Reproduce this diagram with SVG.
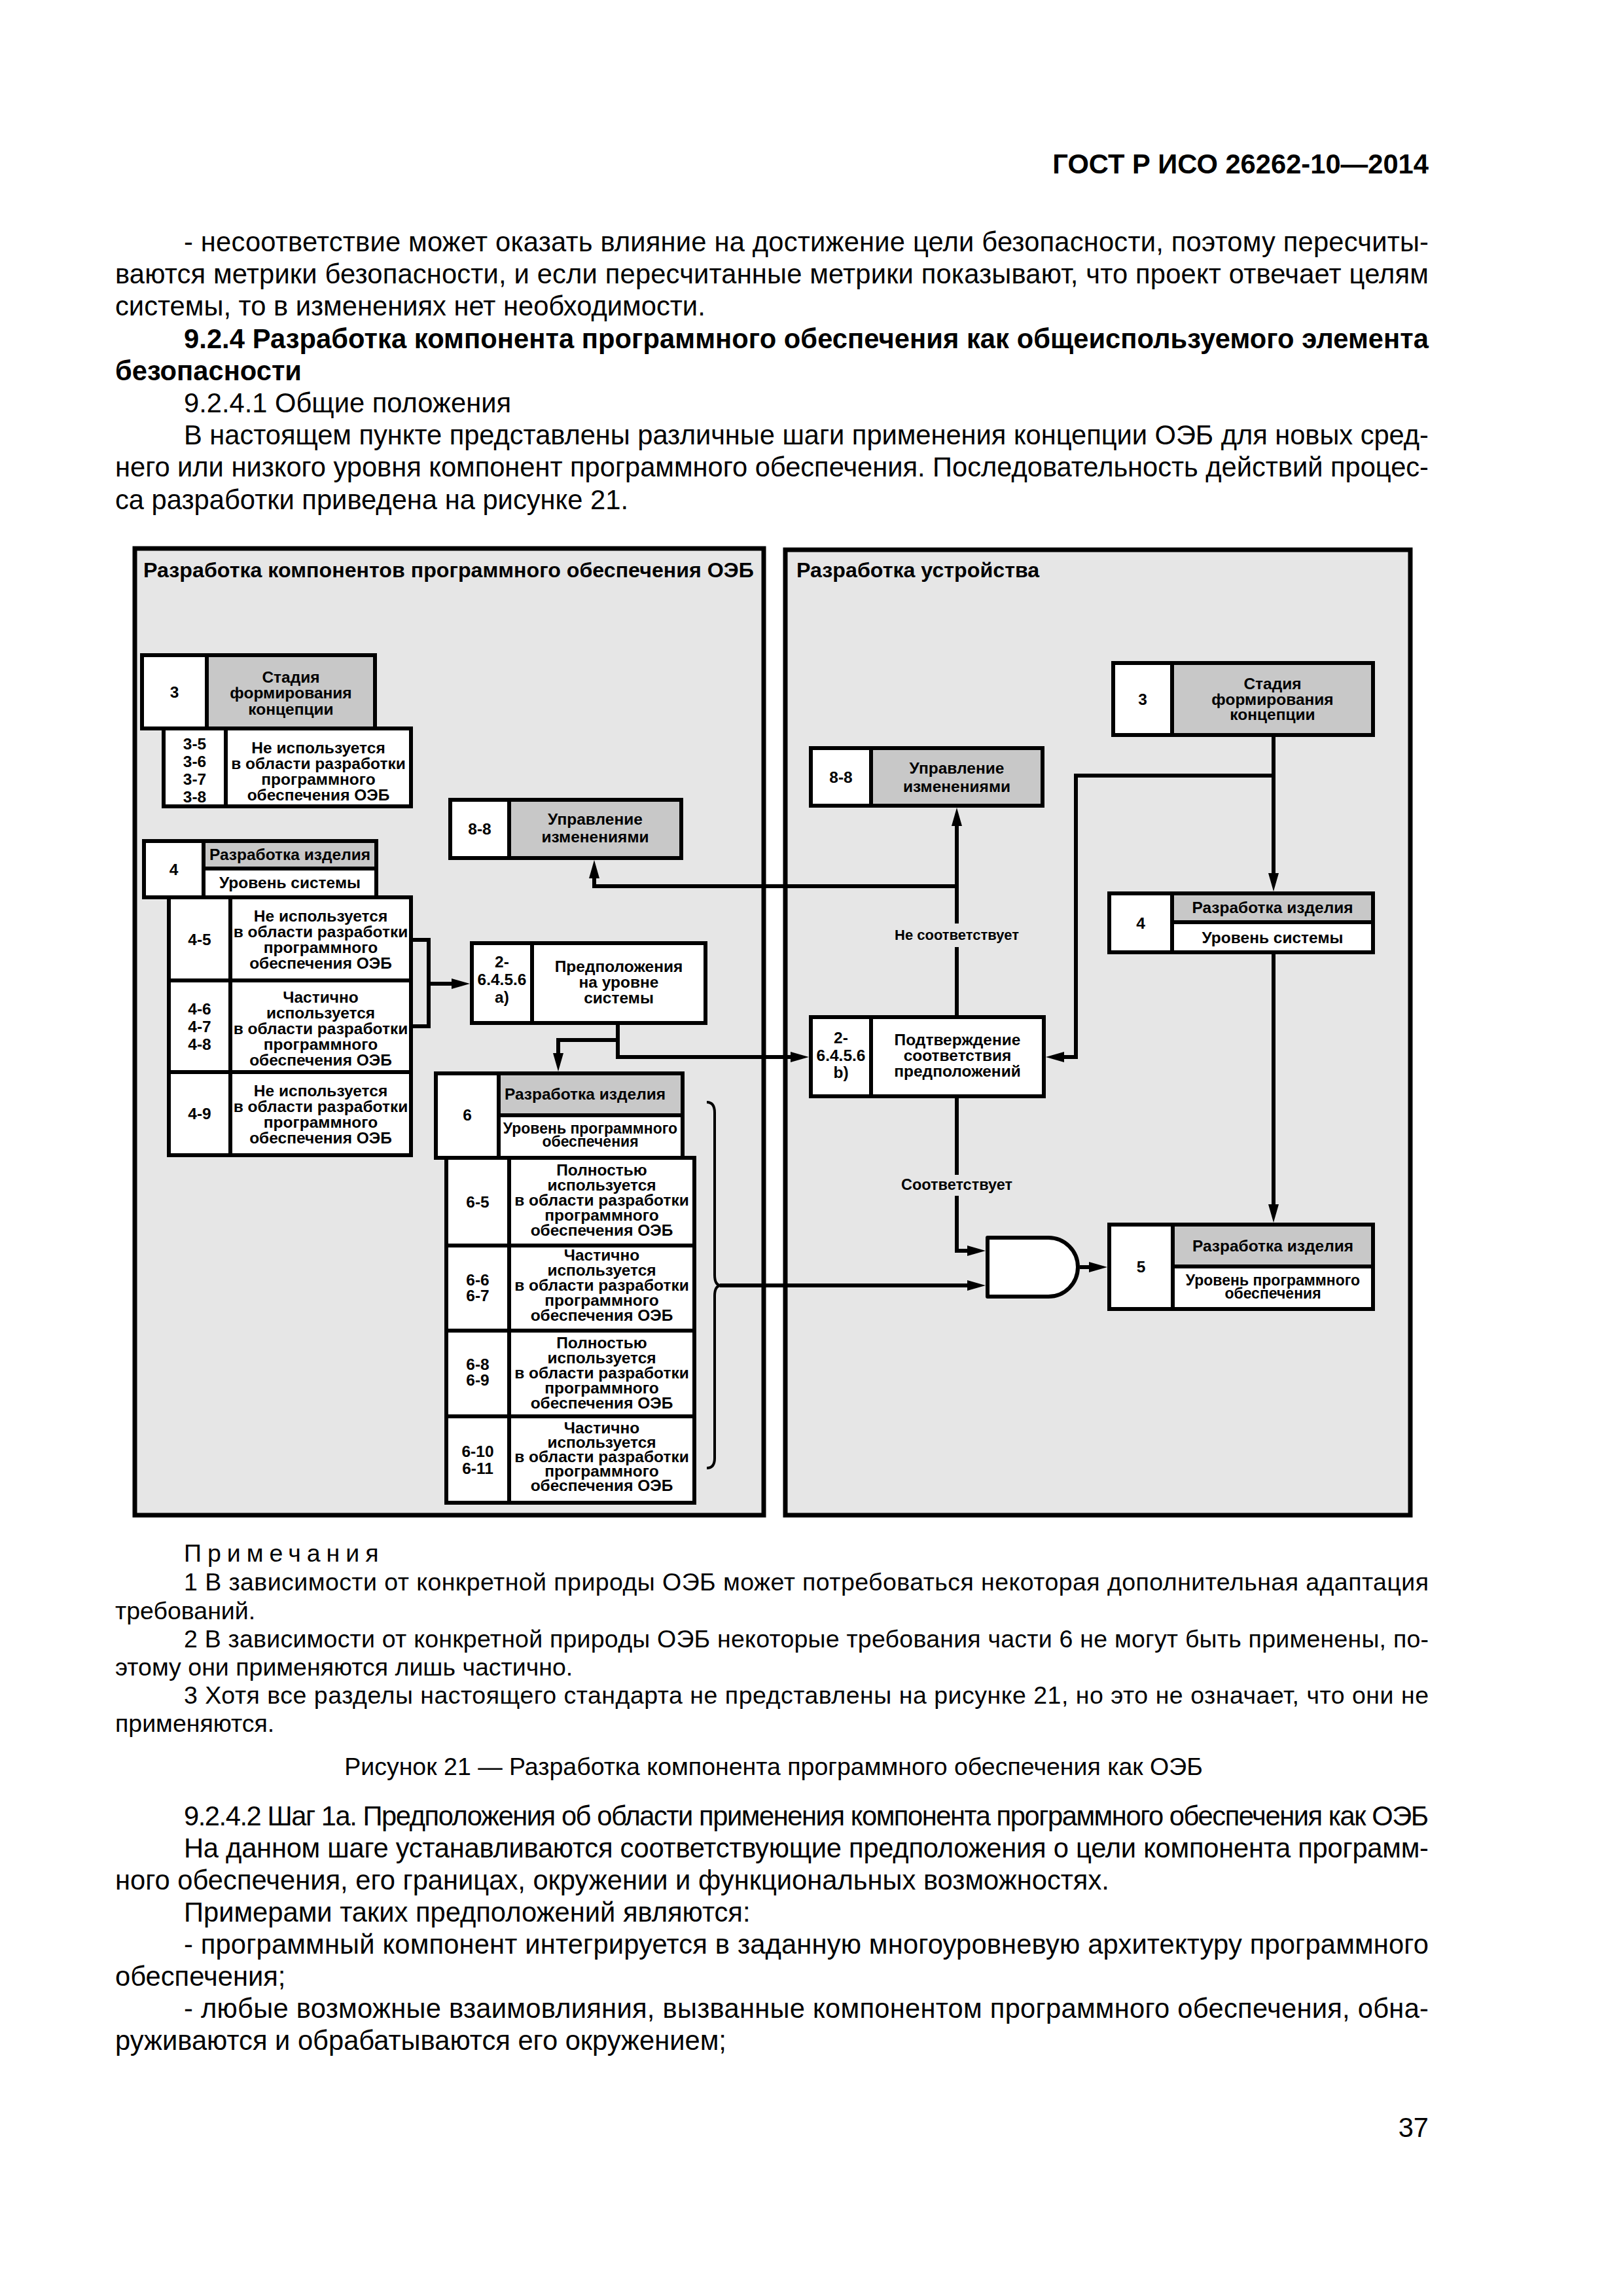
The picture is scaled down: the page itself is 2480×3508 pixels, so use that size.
<svg xmlns="http://www.w3.org/2000/svg" width="2480" height="3508" viewBox="0 0 2480 3508">
<defs>
<style>
.panel{fill:#e6e6e6;stroke:#000;stroke-width:7}
.w{fill:#fff;stroke:#000;stroke-width:6}
.g{fill:#c8c8c8;stroke:#000;stroke-width:6}
.ln{fill:none;stroke:#000;stroke-width:6}
.br{fill:none;stroke:#000;stroke-width:4}
.gate{fill:#fff;stroke:#000;stroke-width:6;stroke-linejoin:round}
text{font-family:"Liberation Sans",Arial,Helvetica,sans-serif;fill:#000}
.b{font-weight:bold;font-size:24.5px;text-anchor:middle}
.b23{font-weight:bold;font-size:23px;text-anchor:middle}
.lb{font-weight:bold;font-size:22px;text-anchor:middle}
.lb2{font-weight:bold;font-size:23.5px;text-anchor:middle}
.tt{font-size:32.2px;font-weight:bold}
.tx{font-size:41.7px}
.tb{font-size:41.7px;font-weight:bold}
.nt{font-size:37.5px}
</style>
<marker id="ah" viewBox="0 0 28 16" markerWidth="28" markerHeight="16" markerUnits="userSpaceOnUse" refX="14" refY="8" orient="auto"><path d="M0,0 L28,8 L0,16 Z" fill="#000"/></marker>
</defs>
<rect x="0" y="0" width="2480" height="3508" fill="#fff"/>

<g id="page-text">
<text class="tb" x="2183" y="265" text-anchor="end">ГОСТ Р ИСО 26262-10—2014</text>
<text class="tx" x="281" y="384" textLength="1902" lengthAdjust="spacing">- несоответствие может оказать влияние на достижение цели безопасности, поэтому пересчиты-</text>
<text class="tx" x="176" y="433" textLength="2007" lengthAdjust="spacing">ваются метрики безопасности, и если пересчитанные метрики показывают, что проект отвечает целям</text>
<text class="tx" x="176" y="482">системы, то в изменениях нет необходимости.</text>
<text class="tb" x="281" y="532" textLength="1902" lengthAdjust="spacing">9.2.4 Разработка компонента программного обеспечения как общеиспользуемого элемента</text>
<text class="tb" x="176" y="581">безопасности</text>
<text class="tx" x="281" y="630">9.2.4.1 Общие положения</text>
<text class="tx" x="281" y="679" textLength="1902" lengthAdjust="spacing">В настоящем пункте представлены различные шаги применения концепции ОЭБ для новых сред-</text>
<text class="tx" x="176" y="728" textLength="2007" lengthAdjust="spacing">него или низкого уровня компонент программного обеспечения.  Последовательность действий процес-</text>
<text class="tx" x="176" y="778">са разработки приведена на рисунке 21.</text>

<text class="nt" x="281" y="2386" letter-spacing="9">Примечания</text>
<text class="nt" x="281" y="2430" textLength="1902" lengthAdjust="spacing">1 В зависимости от конкретной природы ОЭБ может потребоваться некоторая дополнительная адаптация</text>
<text class="nt" x="176" y="2474">требований.</text>
<text class="nt" x="281" y="2517" textLength="1902" lengthAdjust="spacing">2 В зависимости от конкретной природы ОЭБ некоторые требования части 6 не могут быть применены, по-</text>
<text class="nt" x="176" y="2560">этому они применяются лишь частично.</text>
<text class="nt" x="281" y="2603" textLength="1902" lengthAdjust="spacing">3 Хотя все разделы настоящего стандарта не представлены на рисунке 21, но это не означает, что они не</text>
<text class="nt" x="176" y="2646">применяются.</text>
<text class="nt" x="1182" y="2712" text-anchor="middle">Рисунок 21 — Разработка компонента программного обеспечения как ОЭБ</text>

<text class="tx" x="281" y="2789" textLength="1902" lengthAdjust="spacing">9.2.4.2 Шаг 1а. Предположения об области применения компонента программного обеспечения как ОЭБ</text>
<text class="tx" x="281" y="2838" textLength="1902" lengthAdjust="spacing">На данном шаге устанавливаются соответствующие предположения о цели компонента программ-</text>
<text class="tx" x="176" y="2887">ного обеспечения, его границах, окружении и функциональных возможностях.</text>
<text class="tx" x="281" y="2936">Примерами таких предположений являются:</text>
<text class="tx" x="281" y="2985" textLength="1902" lengthAdjust="spacing">- программный компонент интегрируется в заданную многоуровневую архитектуру программного</text>
<text class="tx" x="176" y="3034">обеспечения;</text>
<text class="tx" x="281" y="3083" textLength="1902" lengthAdjust="spacing">- любые возможные взаимовлияния, вызванные компонентом программного обеспечения, обна-</text>
<text class="tx" x="176" y="3132">руживаются и обрабатываются его окружением;</text>
<text class="tx" x="2183" y="3265" text-anchor="end">37</text>
</g>

<g id="panel-left">
<rect class="panel" x="206" y="838" width="961" height="1477"/>
<text class="tt" x="219" y="882">Разработка компонентов программного обеспечения ОЭБ</text>
</g>
<g id="panel-right">
<rect class="panel" x="1200" y="840" width="955" height="1475"/>
<text class="tt" x="1217" y="882">Разработка устройства</text>
</g>

<g id="connectors">
<path class="ln" d="M631,1436 H655 V1568 H631"/>
<path class="ln" d="M655,1503 H704" marker-end="url(#ah)"/>
<path class="ln" d="M944,1566 V1615 H1222" marker-end="url(#ah)"/>
<path class="ln" d="M944,1589 H853 V1623" marker-end="url(#ah)"/>
<path class="ln" d="M1462,1551 V1447"/>
<path class="ln" d="M1462,1411 V1248" marker-end="url(#ah)"/>
<path class="ln" d="M1462,1354 H908 V1328" marker-end="url(#ah)"/>
<text class="lb" x="1462" y="1436">Не соответствует</text>
<path class="ln" d="M1946,1126 V1348" marker-end="url(#ah)"/>
<path class="ln" d="M1946,1185 H1644 V1615 H1612" marker-end="url(#ah)"/>
<path class="ln" d="M1946,1458 V1854" marker-end="url(#ah)"/>
<path class="ln" d="M1462,1678 V1795"/>
<path class="ln" d="M1462,1827 V1911 H1492" marker-end="url(#ah)"/>
<text class="lb2" x="1462" y="1818">Соответствует</text>
<path class="br" d="M1080,1684 Q1092,1684 1092,1700 V1948 Q1092,1964 1102,1964 Q1092,1964 1092,1980 V2228 Q1092,2243 1080,2243"/>
<path class="ln" d="M1100,1964 H1492" marker-end="url(#ah)"/>
<path class="ln" d="M1650,1936 H1678" marker-end="url(#ah)"/>
</g>

<g id="node-L3">
<rect class="w" x="217" y="1001" width="99" height="112"/>
<rect class="g" x="316" y="1001" width="257" height="112"/>
<text class="b" x="266.5" y="1066">3</text>
<text class="b" x="444.5" y="1043">Стадия</text>
<text class="b" x="444.5" y="1067">формирования</text>
<text class="b" x="444.5" y="1092">концепции</text>
</g>
<g id="node-L3-5">
<rect class="w" x="250" y="1113" width="95" height="119"/>
<rect class="w" x="345" y="1113" width="283" height="119"/>
<text class="b" x="297.5" y="1145">3-5</text>
<text class="b" x="297.5" y="1172">3-6</text>
<text class="b" x="297.5" y="1199">3-7</text>
<text class="b" x="297.5" y="1226">3-8</text>
<text class="b" x="486.5" y="1151">Не используется</text>
<text class="b" x="486.5" y="1175">в области разработки</text>
<text class="b" x="486.5" y="1199">программного</text>
<text class="b" x="486.5" y="1223">обеспечения ОЭБ</text>
</g>
<g id="node-L8-8">
<rect class="w" x="688" y="1222" width="90" height="89"/>
<rect class="g" x="778" y="1222" width="263" height="89"/>
<text class="b" x="733" y="1275">8-8</text>
<text class="b" x="909.5" y="1260">Управление</text>
<text class="b" x="909.5" y="1287">изменениями</text>
</g>
<g id="node-L4">
<rect class="w" x="220" y="1285" width="91" height="86"/>
<rect class="g" x="311" y="1285" width="264" height="42"/>
<rect class="w" x="311" y="1327" width="264" height="44"/>
<text class="b" x="265.5" y="1337">4</text>
<text class="b" x="443" y="1314">Разработка изделия</text>
<text class="b" x="443" y="1357">Уровень системы</text>
</g>
<g id="node-L4-5">
<rect class="w" x="258" y="1371" width="94" height="127"/>
<rect class="w" x="352" y="1371" width="276" height="127"/>
<text class="b" x="305" y="1444">4-5</text>
<text class="b" x="490" y="1408">Не используется</text>
<text class="b" x="490" y="1432">в области разработки</text>
<text class="b" x="490" y="1456">программного</text>
<text class="b" x="490" y="1480">обеспечения ОЭБ</text>
</g>
<g id="node-L4-6">
<rect class="w" x="258" y="1498" width="94" height="140"/>
<rect class="w" x="352" y="1498" width="276" height="140"/>
<text class="b" x="305" y="1550">4-6</text>
<text class="b" x="305" y="1577">4-7</text>
<text class="b" x="305" y="1604">4-8</text>
<text class="b" x="490" y="1532">Частично</text>
<text class="b" x="490" y="1556">используется</text>
<text class="b" x="490" y="1580">в области разработки</text>
<text class="b" x="490" y="1604">программного</text>
<text class="b" x="490" y="1628">обеспечения ОЭБ</text>
</g>
<g id="node-L4-9">
<rect class="w" x="258" y="1638" width="94" height="127"/>
<rect class="w" x="352" y="1638" width="276" height="127"/>
<text class="b" x="305" y="1710">4-9</text>
<text class="b" x="490" y="1675">Не используется</text>
<text class="b" x="490" y="1699">в области разработки</text>
<text class="b" x="490" y="1723">программного</text>
<text class="b" x="490" y="1747">обеспечения ОЭБ</text>
</g>
<g id="node-L2a">
<rect class="w" x="721" y="1441" width="92" height="122"/>
<rect class="w" x="813" y="1441" width="265" height="122"/>
<text class="b" x="767" y="1478">2-</text>
<text class="b" x="767" y="1505">6.4.5.6</text>
<text class="b" x="767" y="1532">a)</text>
<text class="b" x="945.5" y="1485">Предположения</text>
<text class="b" x="945.5" y="1509">на уровне</text>
<text class="b" x="945.5" y="1533">системы</text>
</g>
<g id="node-L6">
<rect class="w" x="666" y="1640" width="96" height="129"/>
<rect class="g" x="762" y="1640" width="281" height="64"/>
<rect class="w" x="762" y="1704" width="281" height="65"/>
<text class="b" x="714" y="1712">6</text>
<text class="b" x="894" y="1680">Разработка изделия</text>
<text class="b23" x="902" y="1732">Уровень программного</text>
<text class="b23" x="902" y="1752">обеспечения</text>
</g>
<g id="node-L6-5">
<rect class="w" x="682" y="1769" width="96" height="134"/>
<rect class="w" x="778" y="1769" width="283" height="134"/>
<text class="b" x="730" y="1845">6-5</text>
<text class="b" x="919.5" y="1796">Полностью</text>
<text class="b" x="919.5" y="1819">используется</text>
<text class="b" x="919.5" y="1842">в области разработки</text>
<text class="b" x="919.5" y="1865">программного</text>
<text class="b" x="919.5" y="1888">обеспечения ОЭБ</text>
</g>
<g id="node-L6-6">
<rect class="w" x="682" y="1903" width="96" height="130"/>
<rect class="w" x="778" y="1903" width="283" height="130"/>
<text class="b" x="730" y="1964">6-6</text>
<text class="b" x="730" y="1988">6-7</text>
<text class="b" x="919.5" y="1926">Частично</text>
<text class="b" x="919.5" y="1949">используется</text>
<text class="b" x="919.5" y="1972">в области разработки</text>
<text class="b" x="919.5" y="1995">программного</text>
<text class="b" x="919.5" y="2018">обеспечения ОЭБ</text>
</g>
<g id="node-L6-8">
<rect class="w" x="682" y="2033" width="96" height="131"/>
<rect class="w" x="778" y="2033" width="283" height="131"/>
<text class="b" x="730" y="2093">6-8</text>
<text class="b" x="730" y="2117">6-9</text>
<text class="b" x="919.5" y="2060">Полностью</text>
<text class="b" x="919.5" y="2083">используется</text>
<text class="b" x="919.5" y="2106">в области разработки</text>
<text class="b" x="919.5" y="2129">программного</text>
<text class="b" x="919.5" y="2152">обеспечения ОЭБ</text>
</g>
<g id="node-L6-10">
<rect class="w" x="682" y="2164" width="96" height="132"/>
<rect class="w" x="778" y="2164" width="283" height="132"/>
<text class="b" x="730" y="2226">6-10</text>
<text class="b" x="730" y="2252">6-11</text>
<text class="b" x="919.5" y="2190">Частично</text>
<text class="b" x="919.5" y="2212">используется</text>
<text class="b" x="919.5" y="2234">в области разработки</text>
<text class="b" x="919.5" y="2256">программного</text>
<text class="b" x="919.5" y="2278">обеспечения ОЭБ</text>
</g>

<g id="node-R3">
<rect class="w" x="1701" y="1013" width="90" height="110"/>
<rect class="g" x="1791" y="1013" width="307" height="110"/>
<text class="b" x="1746" y="1077">3</text>
<text class="b" x="1944.5" y="1053">Стадия</text>
<text class="b" x="1944.5" y="1077">формирования</text>
<text class="b" x="1944.5" y="1100">концепции</text>
</g>
<g id="node-R8-8">
<rect class="w" x="1239" y="1143" width="92" height="88"/>
<rect class="g" x="1331" y="1143" width="262" height="88"/>
<text class="b" x="1285" y="1196">8-8</text>
<text class="b" x="1462" y="1182">Управление</text>
<text class="b" x="1462" y="1210">изменениями</text>
</g>
<g id="node-R4">
<rect class="w" x="1695" y="1365" width="96" height="90"/>
<rect class="g" x="1791" y="1365" width="307" height="44"/>
<rect class="w" x="1791" y="1409" width="307" height="46"/>
<text class="b" x="1743" y="1419">4</text>
<text class="b" x="1944.5" y="1395">Разработка изделия</text>
<text class="b" x="1944.5" y="1441">Уровень системы</text>
</g>
<g id="node-R2b">
<rect class="w" x="1239" y="1554" width="92" height="121"/>
<rect class="w" x="1331" y="1554" width="264" height="121"/>
<text class="b" x="1285" y="1594">2-</text>
<text class="b" x="1285" y="1621">6.4.5.6</text>
<text class="b" x="1285" y="1647">b)</text>
<text class="b" x="1463" y="1597">Подтверждение</text>
<text class="b" x="1463" y="1621">соответствия</text>
<text class="b" x="1463" y="1645">предположений</text>
</g>
<g id="node-AND">
<path class="gate" d="M1509,1891 H1602 A45,45 0 0 1 1602,1981 H1509 Z"/>
</g>
<g id="node-R5">
<rect class="w" x="1695" y="1871" width="97" height="129"/>
<rect class="g" x="1792" y="1871" width="306" height="64"/>
<rect class="w" x="1792" y="1935" width="306" height="65"/>
<text class="b" x="1743.5" y="1944">5</text>
<text class="b" x="1945" y="1912">Разработка изделия</text>
<text class="b23" x="1945" y="1964">Уровень программного</text>
<text class="b23" x="1945" y="1984">обеспечения</text>
</g>
</svg>
